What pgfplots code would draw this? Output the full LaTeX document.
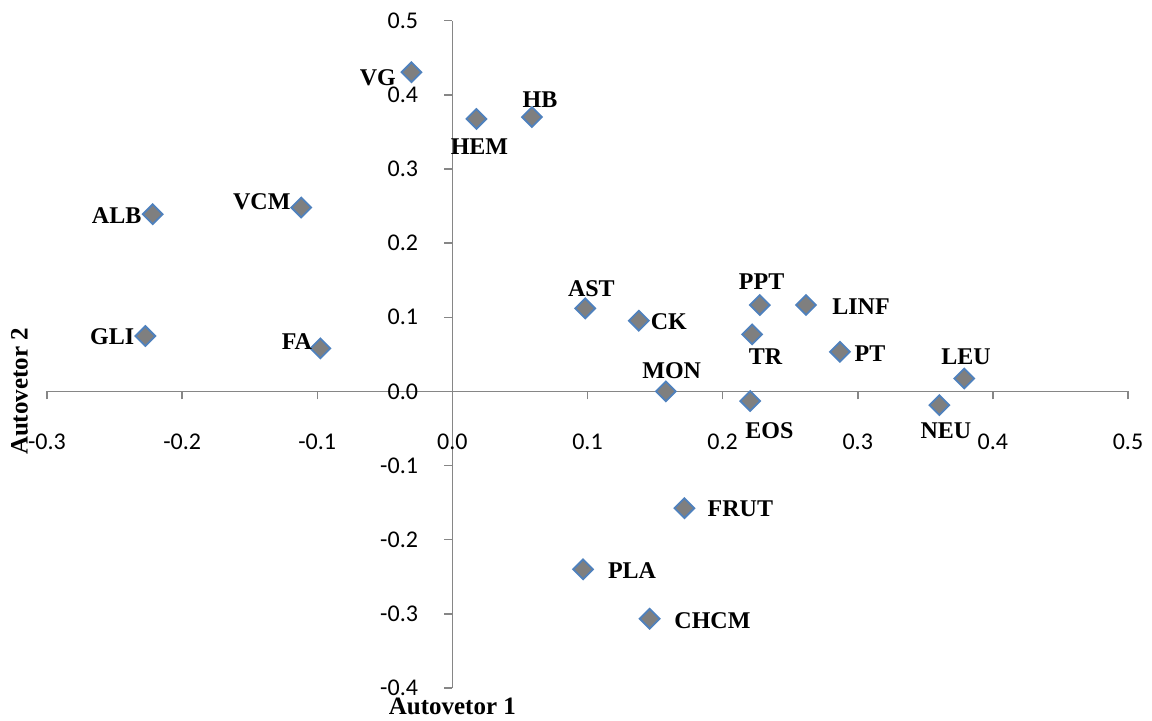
\documentclass[border=0pt]{standalone}
\usepackage{fontspec}
\setmainfont{Liberation Serif}
\newfontfamily\ticksf{Carlito}
\usepackage{pgfplots}
\pgfplotsset{compat=1.18}
\usepackage{pgfplotstable}
\usetikzlibrary{calc}
\definecolor{axgray}{HTML}{868686}
\definecolor{mkfill}{HTML}{7F7F7F}
\definecolor{mkedge}{HTML}{4F81BD}
\pgfplotstableread{
label x y dx dy
VG -0.0303 0.4305 -16.8 -3
HEM 0.0178 0.3675 1.5 -14
HB 0.0589 0.370 4 8.7
ALB -0.2218 0.239 -18 -0.5
VCM -0.1119 0.248 -19.7 2.9
GLI -0.2272 0.0747 -16.6 -0.5
FA -0.0977 0.058 -11.7 3.3
AST 0.0983 0.112 3.1 9.75
CK 0.138 0.0954 15 -0.5
PPT 0.2275 0.1165 0.9 11.8
LINF 0.2617 0.1165 27.5 -0.8
TR 0.2218 0.0769 6.7 -11.2
PT 0.2868 0.0535 15 -0.8
LEU 0.3788 0.0175 0.9 10.8
MON 0.158 0.0 2.9 10.5
EOS 0.2204 -0.013 9.6 -14.6
NEU 0.3604 -0.0185 3.3 -12.7
FRUT 0.1717 -0.1575 28 -0.3
PLA 0.0967 -0.240 24.5 -0.5
CHCM 0.146 -0.3066 31.4 -0.8
}\pts
\begin{document}
\begin{tikzpicture}
\begin{axis}[
  scale only axis, width=540.5pt, height=333.65pt,
  xmin=-0.3, xmax=0.5, ymin=-0.4, ymax=0.5,
  axis lines=middle,
  axis line style={-, draw=axgray, line width=0.75pt},
  xtick={-0.3,-0.2,-0.1,0,0.1,0.2,0.3,0.4,0.5},
  ytick={-0.4,-0.3,-0.2,-0.1,0,0.1,0.2,0.3,0.4,0.5},
  tick align=outside, major tick length=4pt,
  tick style={draw=axgray, line width=0.75pt},
  hide obscured x ticks=false, hide obscured y ticks=false,
  tick label style={font=\ticksf\fontsize{12}{14}\selectfont, text=black, inner sep=1pt},
  /pgf/number format/fixed, /pgf/number format/fixed zerofill,
  /pgf/number format/precision=1, /pgf/number format/assume math mode=true,
  xticklabel style={anchor=north, yshift=-16pt},
  yticklabel style={anchor=east, xshift=-12pt},
  xlabel={Autovetor 1}, ylabel={Autovetor 2},
  xlabel style={at={(rel axis cs:0.375,0)}, anchor=north, yshift=-4pt, inner sep=1pt, font=\bfseries\fontsize{12.5}{14}\selectfont},
  ylabel style={at={(rel axis cs:-0.0111,0.4444)}, anchor=south, rotate=90, font=\bfseries\fontsize{12.5}{14}\selectfont},
  clip=false,
]
\addplot[only marks, mark=square*, mark size=3.5pt,
  mark options={rotate=45, fill=mkfill, draw=mkedge, line width=0.9pt},
  nodes near coords, point meta=explicit symbolic,
  visualization depends on={\thisrow{dx} \as \mydx},
  visualization depends on={\thisrow{dy} \as \mydy},
  nodes near coords style={anchor=center, text=black, font=\bfseries\fontsize{12}{14}\selectfont, xshift=\mydx pt, yshift=\mydy pt},
] table[x=x, y=y, meta=label] {\pts};
\coordinate (bl) at (rel axis cs:0,0);
\coordinate (tr) at (rel axis cs:1,1);
\end{axis}
\pgfresetboundingbox
\path ($(bl)+(-23.5pt,-16pt)$) rectangle ($(tr)+(12pt,10.35pt)$);
\end{tikzpicture}
\end{document}
